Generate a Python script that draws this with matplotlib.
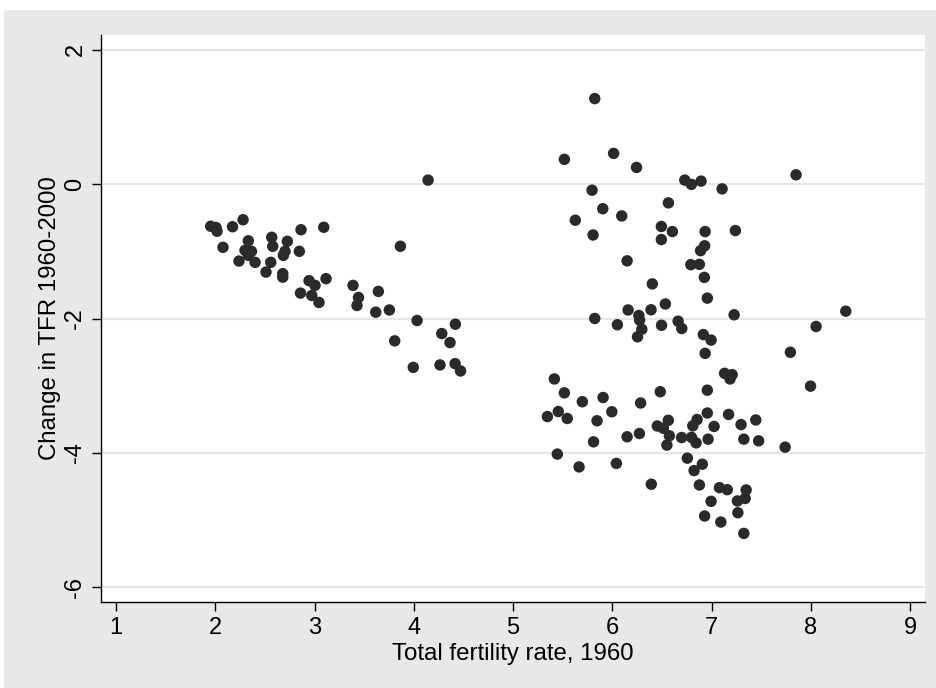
import numpy as np
import matplotlib
matplotlib.use("Agg")
import matplotlib.pyplot as plt
import matplotlib.patches as patches

plt.rcParams['font.family'] = ['Liberation Sans', 'DejaVu Sans']
plt.rcParams['axes.unicode_minus'] = False

# TFR in 1960 (x) and change 1960-2000 (y)
tfr_1960 = [
    1.954, 2.008, 2.018, 2.174, 2.280, 2.078, 2.333, 2.300, 2.365, 2.333,
    2.239, 2.401, 2.569, 2.579, 2.726, 2.703, 2.686, 2.559, 2.511, 2.680,
    2.680, 2.847, 2.864, 3.093, 2.945, 3.005, 3.116, 2.859, 2.972, 3.045,
    3.388, 3.443, 3.428, 3.643, 3.617, 3.754, 3.865, 4.144, 4.033, 4.282,
    4.419, 4.365, 3.808, 3.995, 4.264, 4.416, 4.471,
    5.823, 5.517, 6.013, 6.244, 6.730, 6.797, 6.894, 7.106, 7.851, 5.796,
    6.565, 5.904, 6.095, 5.627, 5.806, 6.494, 6.605, 6.494, 6.935, 7.240,
    6.930, 6.889, 6.149, 6.791, 6.877, 6.927, 6.403, 6.957, 6.534, 6.159,
    6.390, 6.267, 6.275, 5.823, 6.051, 6.297, 6.254, 6.496, 6.663, 6.700,
    7.227, 6.917, 6.995, 6.935, 7.794, 8.053, 8.352, 7.131, 7.207, 7.186,
    7.997, 5.416, 5.517, 5.698, 5.907, 6.483, 6.957, 6.285, 5.346, 5.456,
    5.546, 5.846, 5.995, 6.957, 7.171, 7.297, 7.445, 6.564, 6.453, 6.514,
    6.854, 6.811, 7.025, 6.575, 6.550, 6.698, 6.798, 6.844, 6.965, 7.325,
    7.474, 7.741, 6.149, 6.273, 5.811, 5.446, 5.665, 6.041, 6.393, 6.756,
    6.824, 6.907, 6.877, 7.079, 7.158, 7.348, 7.338, 7.260, 6.995, 7.265,
    6.930, 7.093, 7.325,
]
tfr_change = [
    -0.627, -0.646, -0.701, -0.634, -0.530, -0.940, -0.843, -0.985, -1.000, -1.060,
    -1.145, -1.164, -0.791, -0.925, -0.851, -1.000, -1.060, -1.164, -1.309, -1.333,
    -1.384, -1.000, -0.679, -0.642, -1.437, -1.507, -1.407, -1.622, -1.657, -1.761,
    -1.507, -1.687, -1.806, -1.597, -1.906, -1.873, -0.925, 0.060, -2.030, -2.224,
    -2.085, -2.358, -2.333, -2.727, -2.691, -2.672, -2.781,
    1.273, 0.369, 0.458, 0.249, 0.060, -0.004, 0.045, -0.070, 0.139, -0.090,
    -0.279, -0.366, -0.473, -0.537, -0.757, -0.630, -0.706, -0.825, -0.706, -0.691,
    -0.918, -0.990, -1.142, -1.199, -1.194, -1.388, -1.485, -1.697, -1.784, -1.873,
    -1.870, -1.955, -2.025, -2.000, -2.093, -2.160, -2.273, -2.101, -2.040, -2.149,
    -1.945, -2.239, -2.321, -2.519, -2.503, -2.119, -1.891, -2.816, -2.836, -2.900,
    -3.007, -2.900, -3.107, -3.239, -3.176, -3.090, -3.067, -3.258, -3.460, -3.385,
    -3.488, -3.522, -3.388, -3.407, -3.428, -3.579, -3.510, -3.515, -3.600, -3.634,
    -3.504, -3.597, -3.607, -3.746, -3.884, -3.772, -3.769, -3.851, -3.796, -3.796,
    -3.821, -3.915, -3.761, -3.712, -3.836, -4.018, -4.209, -4.157, -4.467, -4.079,
    -4.264, -4.169, -4.478, -4.518, -4.548, -4.552, -4.679, -4.716, -4.721, -4.891,
    -4.940, -5.030, -5.199,
]

x_ticks = [1, 2, 3, 4, 5, 6, 7, 8, 9]
y_ticks = [-6, -4, -2, 0, 2]

fig = plt.figure(figsize=(9.37, 6.88), dpi=100, facecolor='white')

# gray outer graph region (Stata style), kept behind the axes
bg = patches.Rectangle((4 / 937, 0), 1 - 4 / 937, 678 / 688,
                       transform=fig.transFigure,
                       facecolor='#e8e8e8', edgecolor='none', zorder=-10)
fig.add_artist(bg)

ax = fig.add_axes([101 / 937, 86 / 688, 824 / 937, 567 / 688])
ax.set_zorder(1)
ax.set_facecolor('white')

ax.scatter(tfr_1960, tfr_change, s=68, color='#2a2a2a', edgecolors='none', zorder=3)

ax.set_xlim(0.849, 9.15)
ax.set_ylim(-6.22, 2.22)
ax.set_xticks(x_ticks)
ax.set_yticks(y_ticks)

ax.grid(axis='y', color='#e6e6e6', linewidth=1.6, zorder=0)
ax.grid(axis='x', visible=False)

for side in ['top', 'right']:
    ax.spines[side].set_visible(False)
for side in ['left', 'bottom']:
    ax.spines[side].set_linewidth(1.0)
    ax.spines[side].set_color('black')

ax.tick_params(axis='both', direction='out', length=6.5, width=1.0,
               labelsize=17, colors='black')
ax.tick_params(axis='x', pad=4)
ax.tick_params(axis='y', pad=4, labelrotation=90)
for lab in ax.get_yticklabels():
    lab.set_va('center')

ax.set_xlabel('Total fertility rate, 1960', fontsize=17.3, labelpad=3.5)
ax.set_ylabel('Change in TFR 1960-2000', fontsize=17.3, labelpad=2.5)

fig.savefig('out.png', dpi=100, facecolor='white')
